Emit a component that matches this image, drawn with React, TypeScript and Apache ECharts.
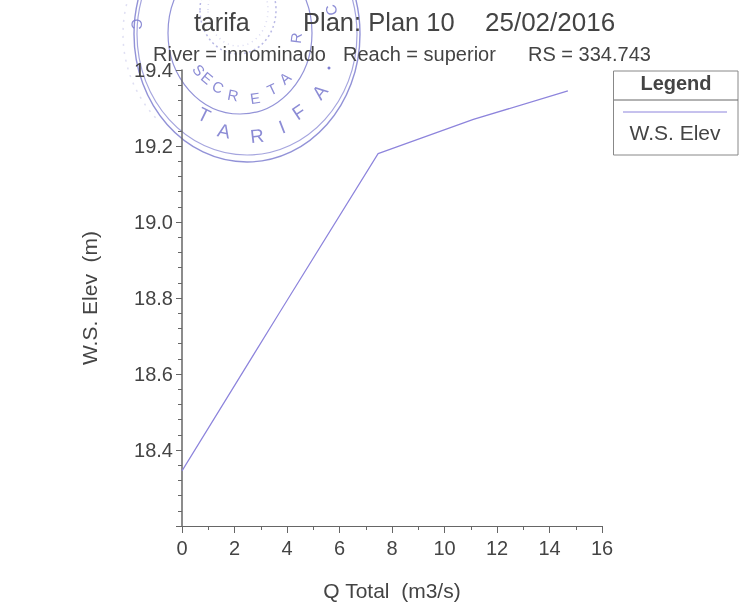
import React, { useEffect, useRef } from "react";
import * as echarts from "echarts";

const seriesName = "W.S. Elev";
const qTotal = [0, 3.7, 7.47, 11.1, 14.7];
const wsElev = [18.345, 18.76, 19.18, 19.27, 19.345];
const titleLeft = "tarifa";
const titlePlan = "Plan: Plan 10";
const titleDate = "25/02/2016";
const subRiver = "River = innominado";
const subReach = "Reach = superior";
const subRs = "RS = 334.743";
const xName = "Q Total  (m3/s)";
const yName = "W.S. Elev  (m)";

const INK = "#444444";
const AXIS = "#666666";
const LINE = "#8d84dc";
const STAMP = "#7f7fd0";
const FONT = '"Liberation Sans", Arial, sans-serif';
const CX = 245;
const CY = 32;

const stampLetters: [string, number, number, number][] = [
  ["S", 199, 70, 15],
  ["E", 207, 78, 15],
  ["C", 218, 87, 15],
  ["R", 233, 95, 15],
  ["E", 255, 98, 15],
  ["T", 272, 89, 15],
  ["A", 285, 78, 15],
  ["R", 296, 38, 15],
  ["T", 204, 115, 19],
  ["A", 224, 131, 19],
  ["R", 257, 136, 19],
  ["I", 282, 127, 19],
  ["F", 299, 112, 19],
  ["A", 320, 92, 19],
  ["C", 331, 10, 15],
  ["C", 137, 24, 15],
];

function stampGraphics(): any[] {
  const ring = (cx: number, cy: number, rx: number, ry: number, o: number, w: number, dash?: number[]) => ({
    type: "ellipse",
    silent: true,
    shape: { cx, cy, rx, ry },
    style: { fill: "none", stroke: STAMP, lineWidth: w, opacity: o, lineDash: dash },
  });
  const letters = stampLetters.map(([t, x, y, s]) => ({
    type: "text",
    silent: true,
    x,
    y,
    rotation: -Math.atan2(CX - x, y - CY),
    style: { text: t, fontSize: s, fontFamily: FONT, fill: STAMP, align: "center", verticalAlign: "middle", opacity: 0.9 },
  }));
  return [
    ring(247, 34, 113, 128, 0.85, 1.4),
    ring(247, 34, 110, 121, 0.7, 1.2),
    ring(240, 33, 72, 81, 0.85, 1.2),
    ring(238, 10, 38, 44, 0.55, 1.5, [2, 3]),
    ring(238, 10, 30, 36, 0.3, 1.5, [1, 4]),
    {
      type: "arc",
      silent: true,
      shape: { cx: 247, cy: 34, r: 124, startAngle: 2.4, endAngle: 3.9 },
      style: { fill: "none", stroke: STAMP, lineWidth: 1.5, opacity: 0.25, lineDash: [2, 6] },
    },
    { type: "circle", silent: true, shape: { cx: 329, cy: 68, r: 1.5 }, style: { fill: STAMP } },
    ...letters,
  ];
}

function legendGraphics(): any[] {
  const t = (text: string, x: number, y: number, size: number, weight: string) => ({
    type: "text",
    x,
    y,
    style: { text, fontSize: size, fontWeight: weight, fontFamily: FONT, fill: INK, align: "center", verticalAlign: "middle" },
  });
  return [
    { type: "rect", shape: { x: 613.5, y: 71, width: 124.5, height: 84 }, style: { fill: "#fff", stroke: "#888", lineWidth: 1 } },
    { type: "line", shape: { x1: 614, y1: 100, x2: 738, y2: 100 }, style: { stroke: "#666", lineWidth: 1 } },
    { type: "line", shape: { x1: 623, y1: 112, x2: 727, y2: 112 }, style: { stroke: LINE, lineWidth: 1 } },
    t("Legend", 676, 83, 20, "bold"),
    t(seriesName, 675, 132, 21, "normal"),
  ];
}

export default function App() {
  const ref = useRef<HTMLDivElement>(null);
  useEffect(() => {
    document.body.style.margin = "0";
    document.body.style.overflow = "hidden";
    const chart = echarts.init(ref.current!, undefined, { renderer: "svg" });
    const titleText = (text: string, left: number, top: number, fontSize: number) => ({
      text,
      left,
      top,
      padding: 0,
      textStyle: { fontSize, fontWeight: "normal" as const, fontFamily: FONT, color: INK },
    });
    chart.setOption({
      animation: false,
      backgroundColor: "#fff",
      title: [
        titleText(titleLeft, 194, 9, 25),
        titleText(titlePlan, 303, 9, 25.5),
        titleText(titleDate, 485, 9, 26),
        titleText(subRiver, 153, 44, 20),
        titleText(subReach, 343, 44, 20),
        titleText(subRs, 528, 44, 20),
      ],
      grid: { left: 182, top: 70, width: 420, height: 456 },
      xAxis: {
        type: "value",
        min: 0,
        max: 16,
        interval: 2,
        name: xName,
        nameLocation: "middle",
        nameGap: 54,
        nameTextStyle: { fontSize: 21, fontFamily: FONT, color: INK },
        axisLine: { lineStyle: { color: AXIS, width: 1 } },
        axisTick: { show: true, length: 7, lineStyle: { color: AXIS } },
        minorTick: { show: true, splitNumber: 2, length: 4, lineStyle: { color: AXIS } },
        splitLine: { show: false },
        axisLabel: { fontSize: 20, fontFamily: FONT, color: INK, margin: 12, showMinLabel: true, showMaxLabel: true },
      },
      yAxis: {
        type: "value",
        min: 18.2,
        max: 19.4,
        interval: 0.2,
        name: yName,
        nameLocation: "middle",
        nameGap: 82,
        nameTextStyle: { fontSize: 21, fontFamily: FONT, color: INK },
        axisLine: { show: true, lineStyle: { color: AXIS, width: 1.5 } },
        axisTick: { show: true, length: 6, lineStyle: { color: AXIS } },
        minorTick: { show: true, splitNumber: 5, length: 4, lineStyle: { color: AXIS } },
        splitLine: { show: false },
        axisLabel: {
          fontSize: 20,
          fontFamily: FONT,
          color: INK,
          margin: 9,
          showMaxLabel: true,
          formatter: (v: number) => (v < 18.3 ? "" : v.toFixed(1)),
        },
      },
      legend: { show: false },
      tooltip: { show: false },
      series: [
        {
          name: seriesName,
          type: "line",
          data: qTotal.map((q, i) => [q, wsElev[i]]),
          showSymbol: false,
          symbol: "none",
          lineStyle: { color: LINE, width: 1.2 },
          z: 3,
        },
      ],
      graphic: [...stampGraphics(), ...legendGraphics()],
    });
    return () => chart.dispose();
  }, []);
  return (
    <div
      ref={ref}
      style={{ position: "absolute", left: 0, top: 0, width: 741, height: 607, filter: "blur(0.35px)" }}
    />
  );
}
